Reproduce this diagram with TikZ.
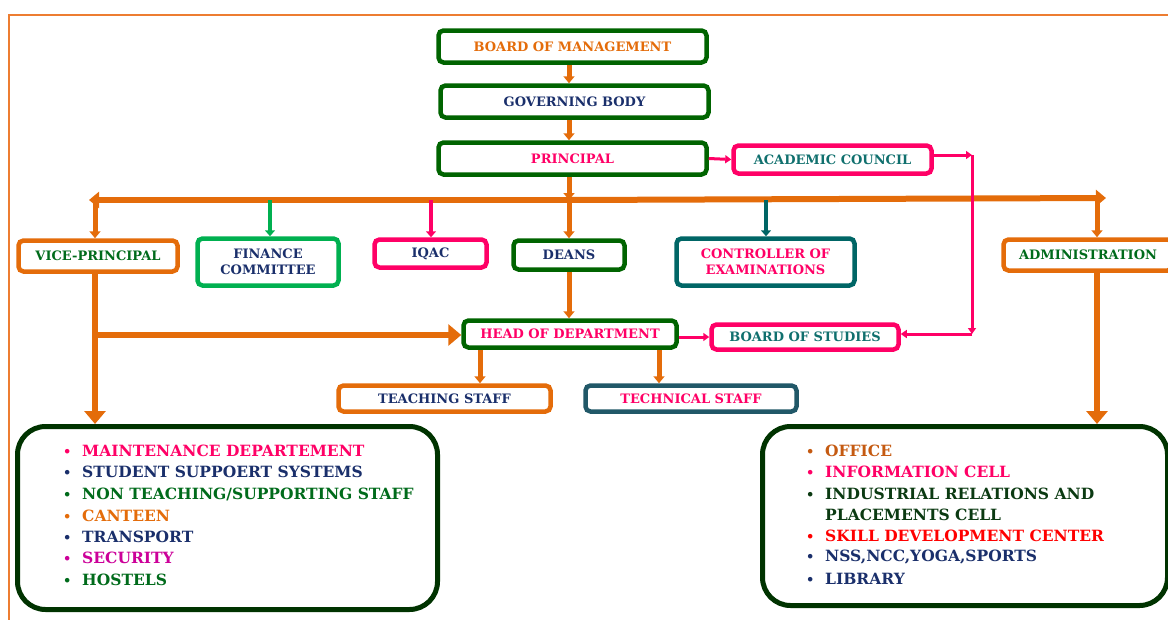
\documentclass[tikz,border=0pt]{standalone}
\usepackage{fontspec}
\setmainfont{DejaVu Serif}
\usetikzlibrary{arrows.meta}
\definecolor{orng}{HTML}{E46C0A}
\definecolor{framec}{HTML}{ED7D31}
\definecolor{dgreen}{HTML}{006400}
\definecolor{pinkc}{HTML}{FF0066}
\definecolor{navy}{HTML}{1A2F6B}
\definecolor{tealc}{HTML}{006666}
\definecolor{tealt}{HTML}{10706E}
\definecolor{fgreen}{HTML}{00B050}
\definecolor{slate}{HTML}{215868}
\definecolor{bigc}{HTML}{003300}
\definecolor{ltgreen}{HTML}{006B1B}
\definecolor{magc}{HTML}{CC0099}
\definecolor{offc}{HTML}{C55A11}
\definecolor{indc}{HTML}{0B3A12}
\definecolor{redc}{HTML}{FF0000}
\newcommand{\bul}{\makebox[19pt][l]{\fontsize{13}{13}\selectfont•}}
\tikzset{
  box/.style={draw, line width=4.5pt, rounded corners=5pt, fill=white, align=center, inner sep=0pt,
    font=\bfseries\fontsize{13}{16}\selectfont},
  bigbox/.style={draw=bigc, line width=5pt, rounded corners=28pt, fill=white, inner sep=0pt},
  item/.style={anchor=west, inner sep=0pt, font=\bfseries\fontsize{15.5}{17}\selectfont},
  oarr/.style={draw=orng, line width=5pt, -{Triangle[width=11pt,length=7pt]}},
  barr/.style={draw=orng, line width=5.5pt, -{Triangle[width=21pt,length=13pt]}},
  larr/.style={draw=orng, line width=6pt, -{Triangle[width=16pt,length=10pt]}},
  parr/.style={draw=pinkc, line width=3pt, -{Triangle[width=8pt,length=6pt]}},
}
\begin{document}
\begin{tikzpicture}[x=1pt,y=-1pt]
\useasboundingbox (0,0) rectangle (1168,619);
% frame
\draw[framec, line width=2pt] (9,625) -- (9,15) -- (1175,15);

% top chain
\node[box, draw=dgreen, text=orng, minimum width=268pt, minimum height=32pt] (bom) at (572.5,46.5) {BOARD OF MANAGEMENT};
\node[box, draw=dgreen, text=navy, minimum width=268pt, minimum height=32pt] (gb) at (574.5,101.5) {GOVERNING BODY};
\node[box, draw=dgreen, text=pinkc, minimum width=268pt, minimum height=32pt] (pr) at (572.5,158.5) {PRINCIPAL};
\node[box, draw=pinkc, text=tealt, minimum width=198pt, minimum height=28pt] (ac) at (832.5,159.5) {ACADEMIC COUNCIL};

% second row
\node[box, draw=orng, text=ltgreen, minimum width=159pt, minimum height=31pt] (vp) at (98,256) {VICE-PRINCIPAL};
\node[box, draw=fgreen, text=navy, minimum width=141pt, minimum height=47pt] (fc) at (268,262) {FINANCE\\COMMITTEE};
\node[box, draw=pinkc, text=navy, minimum width=112pt, minimum height=28pt] (iqac) at (430.5,253.5) {IQAC};
\node[box, draw=dgreen, text=navy, minimum width=111pt, minimum height=29pt] (deans) at (569,255) {DEANS};
\node[box, draw=tealc, text=pinkc, minimum width=178pt, minimum height=47pt] (ce) at (765.5,262) {CONTROLLER OF\\EXAMINATIONS};
\node[box, draw=orng, text=ltgreen, minimum width=169pt, minimum height=31pt] (adm) at (1088,255) {ADMINISTRATION};

% third row
\node[box, draw=dgreen, text=pinkc, minimum width=213pt, minimum height=27pt] (hod) at (570,334) {HEAD OF DEPARTMENT};
\node[box, draw=pinkc, text=tealt, minimum width=187pt, minimum height=25pt] (bos) at (805,337) {BOARD OF STUDIES};
\node[box, draw=orng, text=navy, minimum width=212pt, minimum height=26pt] (ts) at (444.5,398.5) {TEACHING STAFF};
\node[box, draw=slate, text=pinkc, minimum width=211pt, minimum height=26pt] (tech) at (691,398.5) {TECHNICAL STAFF};

% big boxes
\node[bigbox, minimum width=420pt, minimum height=183pt] (lbig) at (227.5,518) {};
\node[bigbox, minimum width=405pt, minimum height=179pt] (rbig) at (965,516) {};

% left list
\node[item, text=pinkc]  (l1) at (63,451) {\bul MAINTENANCE DEPARTEMENT};
\node[item, text=navy]   (l2) at (63,472) {\bul STUDENT SUPPOERT SYSTEMS};
\node[item, text=ltgreen](l3) at (63,494) {\bul NON TEACHING/SUPPORTING STAFF};
\node[item, text=orng]   (l4) at (63,516) {\bul CANTEEN};
\node[item, text=navy]   (l5) at (63,537) {\bul TRANSPORT};
\node[item, text=magc]   (l6) at (63,558) {\bul SECURITY};
\node[item, text=ltgreen](l7) at (63,580) {\bul HOSTELS};

% right list
\node[item, text=offc]   (r1) at (806,451) {\bul OFFICE};
\node[item, text=pinkc]  (r2) at (806,472) {\bul INFORMATION CELL};
\node[item, text=indc]   (r3) at (806,494) {\bul INDUSTRIAL RELATIONS AND};
\node[item, text=indc]   (r3b) at (825,515) {PLACEMENTS CELL};
\node[item, text=redc]   (r4) at (806,536) {\bul SKILL DEVELOPMENT CENTER};
\node[item, text=navy]   (r5) at (806,557) {\bul NSS,NCC,YOGA,SPORTS};
\node[item, text=navy]   (r6) at (806,579) {\bul LIBRARY};

% coordinates
\coordinate (cx) at (569,0);
\coordinate (hub) at (569,200);
\coordinate (barL) at (89,200);
\coordinate (barR) at (1106,198);
\coordinate (vpx) at (95,200);
\coordinate (admx) at (1097,198);
\coordinate (fcx) at (270,200);
\coordinate (iqx) at (431,200);
\coordinate (cex) at (766,200);
\coordinate (c1) at (972,155);
\coordinate (c2) at (972,334);
\coordinate (vpb) at (95,335);
\coordinate (tsx) at (480,0);
\coordinate (tcx) at (659,0);

% top arrows
\draw[oarr] (bom.south -| cx) -- (gb.north -| cx);
\draw[oarr] (gb.south -| cx) -- (pr.north -| cx);
\draw[oarr] (pr.south -| cx) -- (hub);
\draw[parr] (pr.east) -- (ac.west);

% bar
\draw[larr] (hub) -- (barL);
\draw[larr] (hub) -- (barR);
\draw[oarr] (vpx) -- (vp.north -| vpx);
\draw[oarr] (admx) -- (adm.north -| admx);
\draw[fgreen, line width=4pt, -{Triangle[width=10pt,length=6pt]}] (fcx) -- (fc.north -| fcx);
\draw[pinkc, line width=4pt, -{Triangle[width=10pt,length=6pt]}] (iqx) -- (iqac.north -| iqx);
\draw[tealc, line width=4pt, -{Triangle[width=10pt,length=6pt]}] (cex) -- (ce.north -| cex);
\draw[oarr] (hub) -- (deans.north -| hub);

% academic council to board of studies
\draw[parr] (ac.east |- c1) -- (c1);
\draw[parr] (c1) -- (c2);
\draw[parr] (c2) -- (bos.east |- c2);

% lower arrows
\draw[oarr] (deans.south -| cx) -- (hod.north -| cx);
\draw[parr] (hod.east |- bos.west) -- (bos.west);
\draw[oarr] (hod.south -| tsx) -- (ts.north -| tsx);
\draw[oarr] (hod.south -| tcx) -- (tech.north -| tcx);
\draw[barr] (vp.south -| vpx) -- (lbig.north -| vpx);
\draw[barr] (vpb) -- (hod.west |- vpb);
\draw[barr] (adm.south -| admx) -- (rbig.north -| admx);
\end{tikzpicture}
\end{document}
